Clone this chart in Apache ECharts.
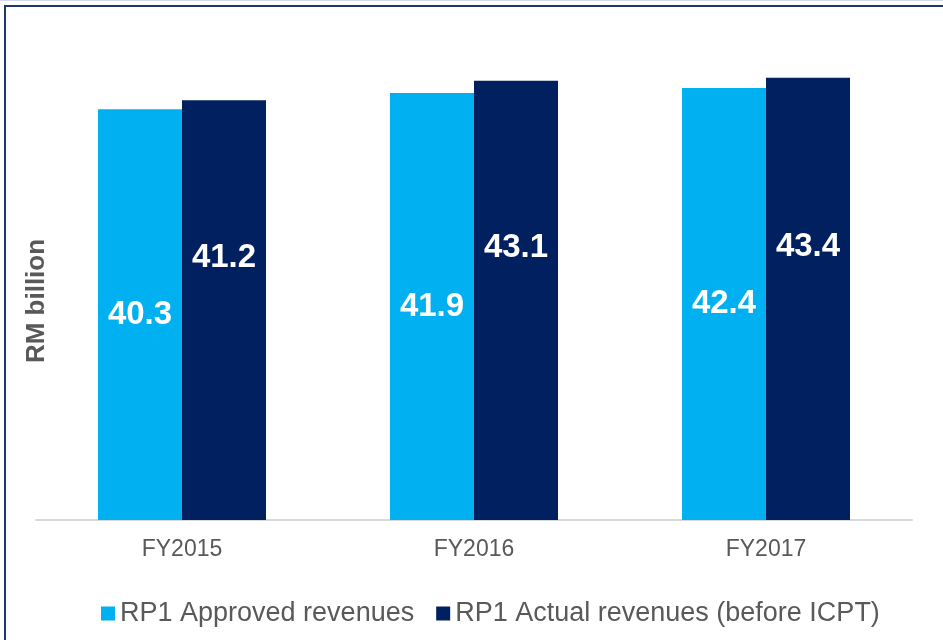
<!DOCTYPE html>
<html>
<head>
<meta charset="utf-8">
<script src="https://cdn.jsdelivr.net/npm/echarts@6/dist/echarts.min.js"></script>
<style>
  html, body { margin: 0; padding: 0; background: #fff; }
  #chart { width: 943px; height: 640px; }
</style>
</head>
<body>
<div id="chart"></div>
<script>
const categories = ['FY2015', 'FY2016', 'FY2017'];
const approved = [40.3, 41.9, 42.4];
const actual = [41.2, 43.1, 43.4];
const seriesNames = ['RP1 Approved revenues', 'RP1 Actual revenues (before ICPT)'];

const font = '"Liberation Sans", Arial, sans-serif';
const grey = '#595959';

const chart = echarts.init(document.getElementById('chart'), null, { renderer: 'canvas' });

chart.setOption({
  animation: false,
  backgroundColor: '#fff',
  color: ['#00b0f0', '#002060'],
  textStyle: { fontFamily: font },
  grid: { left: 36, right: 31, top: 61.4, bottom: 120, containLabel: false },
  graphic: [
    // outer frame
    { type: 'rect', shape: { x: 5, y: 6, width: 1000, height: 1000 },
      style: { fill: 'none', stroke: '#203864', lineWidth: 2 }, silent: true },
    { type: 'line', shape: { x1: 0, y1: 0.5, x2: 943, y2: 0.5 },
      style: { stroke: '#d6dce5', lineWidth: 1 }, silent: true },
    // y axis title
    { type: 'text', x: 37, y: 301, rotation: Math.PI / 2,
      style: { text: 'RM billion', fill: grey, font: 'bold 26px ' + font,
        align: 'center', verticalAlign: 'middle' } }
  ],
  legend: {
    left: 96, top: 595,
    itemWidth: 14, itemHeight: 14, itemGap: 22,
    icon: 'rect',
    textStyle: { color: grey, fontSize: 27, fontFamily: font },
    data: seriesNames
  },
  xAxis: {
    type: 'category',
    data: categories,
    axisLine: { lineStyle: { color: '#d9d9d9', width: 2 } },
    axisTick: { show: false },
    axisLabel: { color: grey, fontSize: 23, fontFamily: font, margin: 18 }
  },
  yAxis: {
    type: 'value', min: 0, max: 45,
    show: false,
    splitLine: { show: false }
  },
  series: [
    {
      name: seriesNames[0], type: 'bar', data: approved,
      barWidth: 84, barGap: '0%',
      label: { show: true, position: 'inside', color: '#fff', fontSize: 33,
        fontWeight: 'bold', fontFamily: font }
    },
    {
      name: seriesNames[1], type: 'bar', data: actual,
      barWidth: 84, barGap: '0%',
      label: { show: true, position: 'inside', offset: [0, -52], color: '#fff',
        fontSize: 33, fontWeight: 'bold', fontFamily: font }
    }
  ]
});
</script>
</body>
</html>
